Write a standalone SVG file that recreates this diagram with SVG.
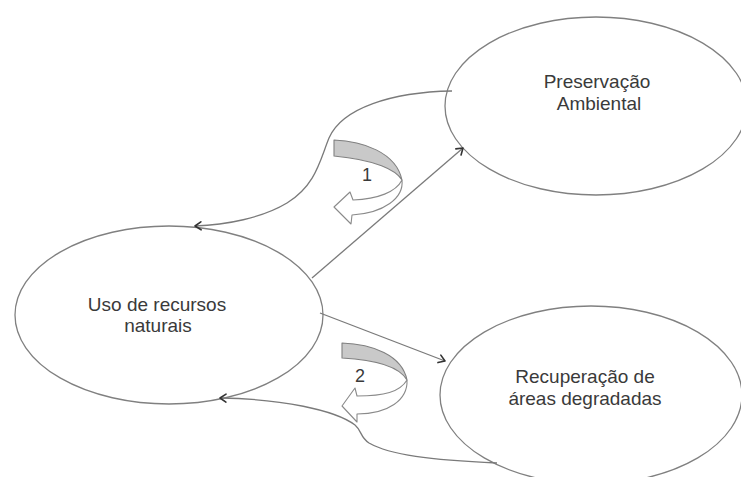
<svg xmlns="http://www.w3.org/2000/svg" width="741" height="477" viewBox="0 0 741 477">
  <style>
    .node { fill: #ffffff; stroke: #808080; stroke-width: 1.3; }
    .label { font-family: "Liberation Sans", Arial, sans-serif; font-size: 19px; fill: #3a3a3a; text-anchor: middle; }
    .num { font-family: "Liberation Sans", Arial, sans-serif; font-size: 18px; fill: #3a3a3a; text-anchor: middle; }
    .edge { fill: none; stroke: #7a7a7a; stroke-width: 1.3; }
    .band { fill: #c9c9c9; stroke: #808080; stroke-width: 1.1; stroke-linejoin: round; }
    .turn { fill: #ffffff; stroke: #8a8a8a; stroke-width: 1.1; stroke-linejoin: round; }
  </style>
  <defs>
    <marker id="head" viewBox="-8 -6 10 12" markerWidth="10" markerHeight="12" refX="0" refY="0" orient="auto" markerUnits="userSpaceOnUse">
      <path d="M-6,-4 L0,0 L-6,4" fill="none" stroke="#333333" stroke-width="1.6" stroke-linecap="round" stroke-linejoin="round"/>
    </marker>
  </defs>
  <rect width="741" height="477" fill="#ffffff"/>

  <!-- nodes -->
  <g id="preservacao">
    <ellipse class="node" cx="596" cy="106" rx="151" ry="89"/>
    <text class="label" x="597" y="88">Preservação</text>
    <text class="label" x="599" y="110">Ambiental</text>
  </g>
  <g id="uso">
    <ellipse class="node" cx="169" cy="315" rx="154" ry="89"/>
    <text class="label" x="157" y="311">Uso de recursos</text>
    <text class="label" x="158" y="332">naturais</text>
  </g>
  <g id="recuperacao">
    <ellipse class="node" cx="591" cy="395" rx="151" ry="89"/>
    <text class="label" x="585" y="383">Recuperação de</text>
    <text class="label" x="585" y="405">áreas degradadas</text>
  </g>

  <!-- connectors -->
  <g id="connectors">
    <path class="edge" d="M312,278 L463,148" marker-end="url(#head)"/>
    <path class="edge" d="M452,91 C392,92 342,108 329,138 C320,160 316,185 287,203 C262,218 226,225 195,226" marker-end="url(#head)"/>
    <path class="edge" d="M320,313 L445,361" marker-end="url(#head)"/>
    <path class="edge" d="M497,463 C430,460 390,455 369,443 C360,437 362,431 355,425 C335,410 282,399 220,398" marker-end="url(#head)"/>
  </g>

  <!-- cycle symbol 1 -->
  <g id="cycle-1">
    <path class="band" d="M334,140 C362,141 396,152 402,180 C396,170 376,160 334,156 Z"/>
    <path class="turn" d="M402,180 C404,198 384,213 352,215 L351,224 L334,207 L350,192 L353,200 C378,199 396,192 402,180 Z"/>
    <text class="num" x="367" y="181">1</text>
  </g>

  <!-- cycle symbol 2 -->
  <g id="cycle-2">
    <path class="band" d="M342,343 C372,344 402,355 407,380 C400,368 380,360 342,358 Z"/>
    <path class="turn" d="M407,380 C408,400 388,414 357,414 L357,422 L342,406 L355,388 L357,396 C384,396 400,392 407,380 Z"/>
    <text class="num" x="360" y="382">2</text>
  </g>
</svg>
